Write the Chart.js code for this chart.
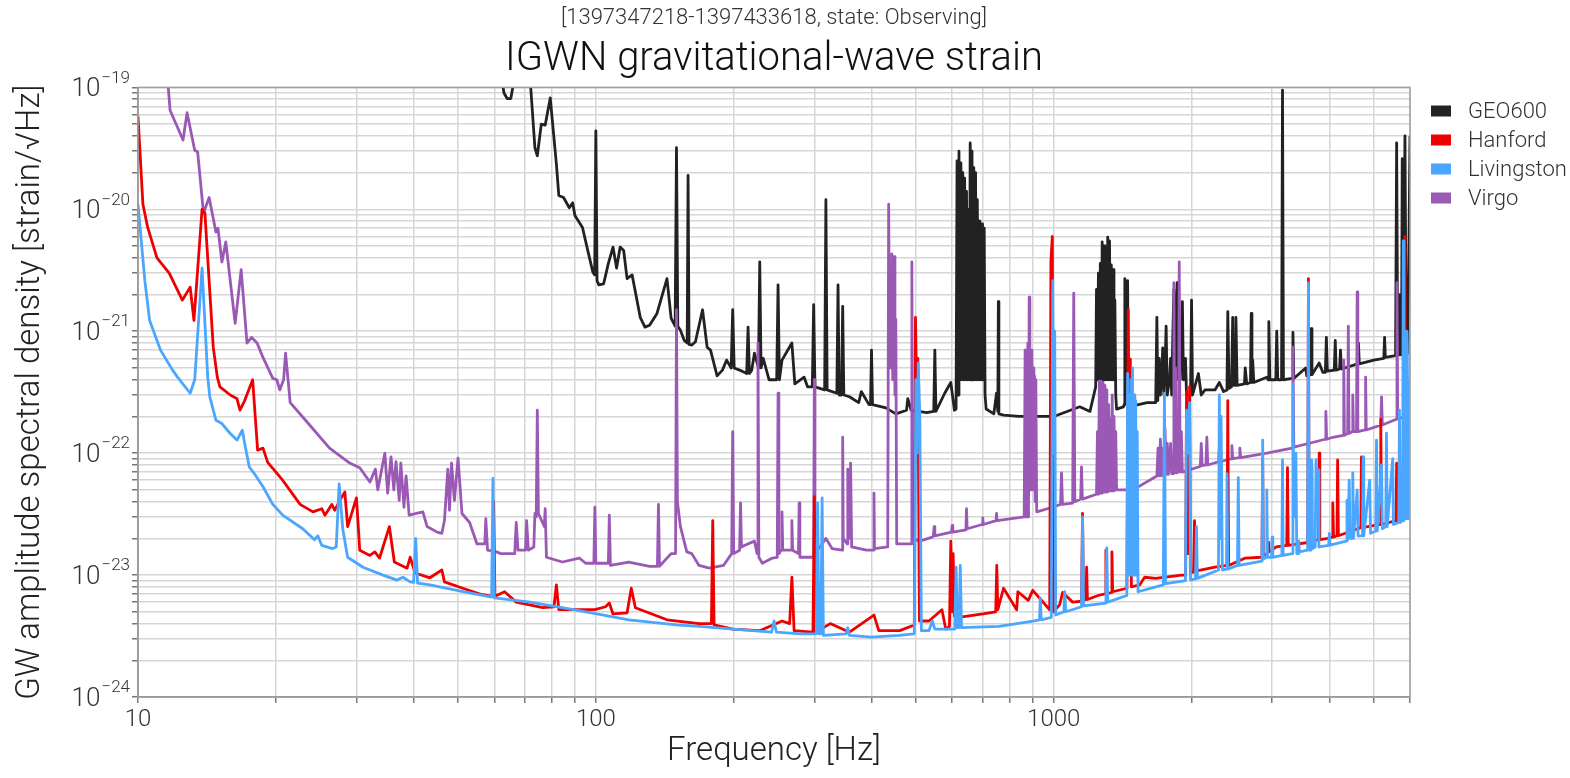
<!DOCTYPE html>
<html lang="en">
<head>
    <meta charset="UTF-8">
    <title>IGWN gravitational-wave strain</title>
    <style>
        body {
            margin: 0;
            background: #ffffff;
        }
        .chart-container {
            width: 1570px;
            height: 778px;
        }
    </style>
</head>
<body>
    <div class="chart-container">
        <canvas id="asdChart"></canvas>
    </div>

    <script src="https://cdn.jsdelivr.net/npm/chart.js"></script>
    <script>
        // axis ranges and tick labels
        const freqRange = [10, 6000];
        const asdRange = [1e-24, 1e-19];
        const xTickValues = [10, 20, 30, 40, 50, 60, 70, 80, 90, 100, 200, 300, 400, 500, 600, 700, 800, 900,
                             1000, 2000, 3000, 4000, 5000, 6000];
        const xTickLabels = { 10: '10', 100: '100', 1000: '1000' };
        const yDecades = [1e-24, 1e-23, 1e-22, 1e-21, 1e-20, 1e-19];
        const yDecadeExponents = ['\u221224', '\u221223', '\u221222', '\u221221', '\u221220', '\u221219'];
        const yMinorSteps = [1, 2, 3, 4, 5, 6, 7, 8, 9];

        const detectors = ['GEO600', 'Hanford', 'Livingston', 'Virgo'];
        const colors = ['#222222', '#ee0000', '#4ba6ff', '#9b59b6'];
        const drawOrder = [4, 2, 1, 3];   // higher = further back

        // [frequency Hz, ASD strain/rtHz]
        const geo600 = [
            [50,5e-19],[60,2e-19],[62,1.3e-19],[63,9e-20],[64,8.1e-20],[65.2,8.1e-20],[66,1.05e-19],[68,1.5e-19],
            [71,1.5e-19],[72,1.05e-19],[73.6,3.2e-20],[74.5,2.75e-20],[76,5e-20],[77.5,4.9e-20],[79.5,8.2e-20],
            [82,2.35e-20],[83,1.3e-20],[85,1.25e-20],[87.5,1.03e-20],[89,1.13e-20],[90,8.9e-21],[93.5,7.1e-21],
            [96,4.6e-21],[98.5,3.05e-21],[99.4,2.9e-21],[100,4.4e-20],[100.6,2.6e-21],[101.5,2.4e-21],[104,2.45e-21],
            [106.5,3.6e-21],[109,4.9e-21],[111,3.3e-21],[113,4.9e-21],[115,4.6e-21],[117,2.7e-21],[120,2.9e-21],
            [125,1.3e-21],[128,1.08e-21],[131,1.12e-21],[136,1.4e-21],[143,2.7e-21],[146,1.28e-21],[149,1.1e-21],
            [150,3.2e-20],[151,1.1e-21],[153,1.02e-21],[156,8.4e-22],[158.3,8e-22],[159,1.9e-20],[159.8,7.8e-22],
            [162,7.7e-22],[165,8.2e-22],[171,1.5e-21],[175,7.4e-22],[178,7e-22],[184,4.3e-22],[189,4.8e-22],
            [193,5.8e-22],[197.5,5e-22],[199,1.5e-21],[200.5,5e-22],[206,4.8e-22],[213.5,4.5e-22],[215,1.08e-21],
            [216.5,4.5e-22],[219,4.8e-22],[222,6.6e-22],[226.5,5e-22],[228,3.7e-21],[229.5,5e-22],[232,6e-22],
            [239,4e-22],[248.3,4e-22],[250,2.4e-21],[251.7,4e-22],[255,5.8e-22],[268,8e-22],[272,3.7e-22],
            [285,4.2e-22],[290,3.5e-22],[297,3.5e-22],[299,1.65e-21],[301,3.5e-22],[316,3.3e-22],[318,1.2e-20],
            [320,3.3e-22],[336,3.1e-22],[338,2.4e-21],[340,3e-22],[344,3e-22],[346,1.6e-21],[348,3e-22],
            [358,2.9e-22],[375,2.6e-22],[380,3.2e-22],[395,2.5e-22],[398,2.5e-22],[400,7e-22],[402,2.5e-22],
            [430,2.35e-22],[452,2.1e-22],[477,2.25e-22],[480,2.8e-22],[488,2.25e-22],[528,2.15e-22],[547,2.2e-22],
            [550,7e-22],[553,2.2e-22],[578,3.1e-22],[596,3.8e-22],[607,2.25e-22],
            [612,2.3e-22],[615,2.5e-20],[618,3e-22],[621,3e-20],[624,4e-22],[627,2.4e-20],[630,4e-22],[633,2e-20],
            [636,4e-22],[639,1.8e-20],[642,4e-22],[645,1.4e-20],[648,4e-22],[651,1e-20],[654,4e-22],[657,3.5e-20],
            [660,4e-22],[663,3e-20],[666,4e-22],[669,2.2e-20],[672,4e-22],[675,2e-20],[678,4e-22],[681,1.2e-20],
            [684,4e-22],[687,8e-21],[690,4e-22],[693,7.6e-21],[696,4e-22],[699,7.6e-21],[702,4e-22],[705,7e-21],
            [708,3e-22],[712,2.3e-22],
            [740,2.1e-22],[750,3.1e-22],[755,2.2e-22],[757,1.75e-21],[759,2.1e-22],[777,2.05e-22],[840,2e-22],
            [930,2e-22],[1000,2e-22],[1140,2.4e-22],[1200,2.2e-22],[1235,3.5e-22],
            [1240,2.2e-21],[1246,4e-22],[1252,3e-21],[1258,4e-22],[1264,3.6e-21],[1270,4e-22],[1276,5.4e-21],
            [1282,4e-22],[1288,5e-21],[1294,4e-22],[1300,4.2e-21],[1306,4e-22],[1312,5.9e-21],[1318,4e-22],
            [1324,5.5e-21],[1330,4e-22],[1336,3.5e-21],[1342,4e-22],[1348,3.2e-21],[1354,4e-22],[1360,1.8e-21],
            [1366,3e-22],[1372,2.3e-22],
            [1420,2.4e-22],[1425,2.5e-22],[1430,2.7e-21],[1436,3e-22],[1443,3e-22],[1450,2.6e-21],[1456,2.4e-22],
            [1600,2.6e-22],[1670,2.6e-22],[1680,1.3e-21],[1688,2.7e-22],[1700,6e-22],[1710,3e-22],[1720,4e-22],
            [1730,7.3e-22],[1740,3e-22],[1750,5e-22],[1760,1.1e-21],[1770,3e-22],[1790,4e-22],[1800,6e-22],
            [1810,3e-22],[1820,9e-22],[1830,2.2e-21],[1840,4e-22],[1850,1.2e-21],[1860,2.5e-21],[1870,4e-22],
            [1880,8e-22],[1890,4e-22],[1900,1e-21],[1910,1.75e-21],[1920,4e-22],[1940,6e-22],[1950,3e-22],
            [1990,3e-22],[2000,1.8e-21],[2010,3e-22],[2070,4.5e-22],[2100,3e-22],[2140,3.3e-22],[2250,3.3e-22],
            [2300,3.8e-22],[2350,3.2e-22],[2390,3.3e-22],[2400,1.45e-21],[2415,3.4e-22],[2445,3.5e-22],
            [2460,1.3e-21],[2475,3.6e-22],[2490,3.6e-22],[2500,1.3e-21],[2515,3.6e-22],[2610,3.7e-22],[2620,5e-22],
            [2640,3.7e-22],[2690,3.8e-22],[2700,1.4e-21],[2710,3.8e-22],[2720,5.8e-22],[2735,3.8e-22],[2920,4.2e-22],
            [2940,4e-22],[2950,1.2e-21],[2965,4e-22],[3055,4e-22],[3070,1e-21],[3085,4e-22],[3145,4e-22],
            [3160,9.5e-20],[3175,4e-22],[3315,4.1e-22],[3330,9.8e-22],[3345,4.1e-22],[3550,5e-22],[3570,4.3e-22],
            [3635,4.4e-22],[3650,1.05e-21],[3665,4.4e-22],[3800,5.5e-22],[3870,4.6e-22],[3920,4.6e-22],
            [3940,8.9e-22],[3960,4.7e-22],[4100,4.8e-22],[4120,8.4e-22],[4140,4.8e-22],[4210,4.9e-22],[4230,7e-22],
            [4250,4.9e-22],[4610,5.4e-22],[4630,8e-22],[4650,5.4e-22],[5000,5.8e-22],[5260,6e-22],[5280,8.9e-22],
            [5300,6.1e-22],[5580,6.3e-22],[5610,3.5e-20],[5640,6.4e-22],[5680,6.4e-22],[5700,2e-21],[5730,6.4e-22],
            [5750,6.4e-22],[5770,2.6e-20],[5795,6.5e-22],[5820,6.5e-22],[5850,4e-20],[5880,1.5e-21],[5920,6.5e-22],
            [5960,3e-21],[6000,4e-20]
        ];

        const hanford = [
            [10,5.8e-20],[10.25,1.1e-20],[10.5,7.1e-21],[11,4e-21],[11.7,3e-21],[12.5,1.8e-21],[13,2.3e-21],
            [13.25,1.23e-21],[13.8,1e-20],[14,9.3e-21],[14.6,7.4e-22],[14.9,4.2e-22],[15.1,3.5e-22],[15.9,3e-22],
            [16.45,2.8e-22],[16.7,2.25e-22],[17.1,2.7e-22],[17.8,4e-22],[18.25,1.06e-22],[18.75,1.1e-22],
            [19.2,8.4e-23],[20.7,6e-23],[22.6,3.8e-23],[24.1,3.3e-23],[25.2,3.5e-23],[25.6,3.1e-23],[26.5,3.8e-23],
            [26.9,3.4e-23],[27.6,4.1e-23],[28.3,4.8e-23],[28.7,2.5e-23],[30,4.3e-23],[30.5,1.6e-23],[32.1,1.45e-23],
            [32.9,1.55e-23],[33.7,1.38e-23],[35.4,2.5e-23],[36.3,1.28e-23],[38.7,1.14e-23],[39.3,1.4e-23],
            [40.3,1.04e-23],[43.4,9.5e-24],[46.1,1.1e-23],[46.7,8.8e-24],[51.2,7.8e-24],[56.5,6.9e-24],[59.4,6.7e-24],
            [59.8,4e-23],[60.2,6.7e-24],[63.2,7.3e-24],[67,6e-24],[76.6,5.4e-24],[81,5.5e-24],[82,8.3e-24],
            [83,5.2e-24],[99.5,5.2e-24],[105,5.5e-24],[107,5.9e-24],[109,4.8e-24],[117,4.9e-24],[119.5,7.8e-24],
            [122,5.4e-24],[143,4.3e-24],[168,4e-24],[178.8,4e-24],[180,2.8e-23],[181.2,3.9e-24],[199,3.6e-24],
            [228,3.5e-24],[255,4.2e-24],[265,4e-24],[268,9.6e-24],[271,3.5e-24],[298,3.4e-24],[300,4.4e-23],
            [302,3.4e-24],[325,4e-24],[358,3.4e-24],[405,4.7e-24],[415,3.5e-24],[461,3.5e-24],[496,3.9e-24],
            [499,1.3e-21],[502,3e-22],[505,6e-22],[509,4.2e-24],[534,4.2e-24],[570,5.2e-24],[581,3.6e-24],
            [592,3.8e-24],[596,1.9e-23],[600,5e-24],[603,1.5e-23],[607,4.6e-24],[620,4.5e-24],[700,4.8e-24],
            [747,5e-24],[751,1.2e-23],[755,5.2e-24],[777,7.8e-24],[830,5.2e-24],[835,7.3e-24],[880,6.2e-24],
            [900,7.5e-24],[980,5.2e-24],[986,3.7e-21],[993,6e-21],[999,5e-24],[1030,5.7e-24],[1046,7.2e-24],
            [1100,6e-24],[1150,6.1e-24],[1156,3.2e-23],[1162,6.2e-24],[1176,6.3e-24],[1180,1.16e-23],[1185,6.3e-24],
            [1250,6.8e-24],[1295,7e-24],[1300,1.6e-23],[1305,7e-24],[1335,7.2e-24],[1340,1.55e-23],[1345,7.3e-24],
            [1445,7.8e-24],[1455,1.5e-21],[1462,4e-23],[1470,5.9e-22],[1478,8e-24],[1540,8.3e-24],[1580,9.6e-24],
            [1670,9.4e-24],[1900,1e-23],[1942,1e-23],[1950,3.2e-22],[1960,1.5e-23],[1972,1.5e-23],[1980,3.5e-22],
            [1988,1.05e-23],[2020,1.06e-23],[2030,2.8e-23],[2040,1.08e-23],[2250,1.16e-23],[2390,1.2e-23],
            [2400,2.7e-22],[2410,1.2e-23],[2620,1.38e-23],[2850,1.4e-23],[2860,8.8e-23],[2870,1.45e-23],
            [2930,1.5e-23],[2940,1.85e-23],[2950,1.55e-23],[3060,1.7e-23],[3228,1.75e-23],[3240,7.6e-23],
            [3252,1.75e-23],[3588,1.85e-23],[3600,2.7e-21],[3612,1.85e-23],[3638,1.9e-23],[3650,7.8e-23],
            [3662,1.9e-23],[3788,1.95e-23],[3800,1e-22],[3812,1.95e-23],[3970,2e-23],[4055,2.05e-23],[4070,3.9e-23],
            [4085,2.05e-23],[4155,2.1e-23],[4170,8.8e-23],[4185,2.1e-23],[4685,2.45e-23],[4700,9.3e-23],
            [4715,2.45e-23],[5160,2.6e-23],[5180,1.9e-22],[5200,2.6e-23],[5590,2.8e-23],[5610,8.3e-23],
            [5630,2.8e-23],[5830,2.9e-23],[5850,6e-21],[5870,2.9e-23],[5930,2.9e-23],[5950,2e-22],[5970,3e-23],
            [6000,3e-23]
        ];

        const livingston = [
            [10,1.1e-20],[10.35,2.6e-21],[10.6,1.23e-21],[11.2,7e-22],[11.9,4.8e-22],[12.2,4.2e-22],[13,3.1e-22],
            [13.3,4e-22],[13.8,3.3e-21],[14.2,4.2e-22],[14.35,2.9e-22],[14.8,1.86e-22],[15.25,1.75e-22],
            [15.9,1.45e-22],[16.45,1.28e-22],[16.9,1.54e-22],[17.1,1.2e-22],[17.5,7.7e-23],[17.9,6.9e-23],
            [18.75,5.3e-23],[19.7,3.8e-23],[20.7,3.1e-23],[22.9,2.4e-23],[24.3,1.95e-23],[24.7,2.1e-23],
            [25.2,1.75e-23],[26.6,1.65e-23],[27.1,1.7e-23],[27.5,5.6e-23],[28,2.4e-23],[28.7,1.4e-23],[31,1.16e-23],
            [34.3,1e-23],[36.8,9.1e-24],[37.9,9.6e-24],[39.3,8.8e-24],[40,8.7e-24],[40.4,2e-23],[40.8,8.6e-24],
            [43.4,8.3e-24],[51.3,7.3e-24],[59.2,6.6e-24],[59.6,6.2e-23],[60,6.5e-24],[71.8,6e-24],[84.4,5.4e-24],
            [100.5,4.8e-24],[118,4.3e-24],[133,4.1e-24],[150,3.9e-24],[168,3.8e-24],[200,3.6e-24],[242,3.4e-24],
            [245,4.2e-24],[248,3.4e-24],[280,3.3e-24],[303,3.3e-24],[305,3.9e-23],[307,3.3e-24],[310,3.3e-24],
            [312,4.3e-23],[314,3.2e-24],[352,3.3e-24],[355,3.7e-24],[358,3.2e-24],[400,3.1e-24],[460,3.2e-24],
            [496,3.3e-24],[500,4e-22],[503,1e-22],[506,5.5e-22],[510,2e-22],[514,3.5e-24],[534,3.5e-24],
            [543,4.2e-24],[550,3.6e-24],[608,3.6e-24],[612,1.16e-23],[616,3.7e-24],[621,3.7e-24],[625,1.2e-23],
            [629,3.7e-24],[760,3.8e-24],[900,4.2e-24],[931,4.3e-24],[935,6.5e-24],[939,4.3e-24],[988,4.5e-24],
            [995,2.6e-21],[1000,1e-22],[1005,1e-21],[1010,4.7e-24],[1052,5e-24],[1057,7.3e-24],[1062,5e-24],
            [1150,5.5e-24],[1156,3e-23],[1162,5.6e-24],[1300,5.9e-24],[1306,1.67e-23],[1312,6e-24],[1444,6.8e-24],
            [1450,4.5e-22],[1456,1e-23],[1462,3e-22],[1468,1e-23],[1474,4e-22],[1480,1e-23],[1486,5e-22],
            [1492,1e-23],[1498,3e-22],[1504,1e-23],[1510,2.7e-22],[1516,1e-23],[1522,1.5e-22],[1528,7.3e-24],
            [1735,8.3e-24],[1745,3.1e-22],[1755,8.5e-24],[1940,9e-24],[1950,2.25e-22],[1965,1e-22],[1980,2.6e-22],
            [1990,9.1e-24],[2040,9.3e-24],[2050,2.5e-23],[2060,9.4e-24],[2290,1.1e-23],[2300,3e-22],[2310,2e-23],
            [2320,2e-22],[2335,1.1e-23],[2380,1.12e-23],[2390,6.8e-23],[2400,1.12e-23],[2520,1.2e-23],
            [2530,6.3e-23],[2540,1.2e-23],[2850,1.3e-23],[2860,1.28e-22],[2870,1.35e-23],[2910,1.4e-23],
            [2920,5e-23],[2930,1.4e-23],[2990,1.4e-23],[3000,2.05e-23],[3010,1.4e-23],[3150,1.45e-23],
            [3160,8.8e-23],[3170,1.45e-23],[3320,1.5e-23],[3330,3.7e-22],[3345,3e-23],[3365,3e-23],[3380,1e-22],
            [3395,1.5e-23],[3420,1.5e-23],[3430,1.9e-23],[3440,1.55e-23],[3585,1.6e-23],[3600,2.5e-21],
            [3615,1.6e-23],[3645,1.6e-23],[3660,8.8e-23],[3675,1.65e-23],[3725,1.7e-23],[3740,8.8e-23],
            [3760,3e-23],[3780,7.3e-23],[3795,1.7e-23],[3985,1.75e-23],[4000,2.2e-23],[4015,1.76e-23],
            [4355,1.9e-23],[4370,4.1e-23],[4385,1.95e-23],[4420,6e-23],[4440,2e-23],[4485,2e-23],[4500,6.9e-23],
            [4515,2e-23],[4600,5e-23],[4620,2.1e-23],[4725,2.1e-23],[4740,9.3e-23],[4755,2.1e-23],[4900,6e-23],
            [4920,2.2e-23],[5050,2.3e-23],[5070,1.28e-22],[5090,2.3e-23],[5200,8e-23],[5220,2.4e-23],[5310,2.5e-23],
            [5330,1.46e-22],[5350,2.5e-23],[5500,9e-23],[5520,2.6e-23],[5670,2.7e-23],[5690,2.25e-22],[5710,2.7e-23],
            [5780,2.8e-23],[5800,5.5e-21],[5820,2.8e-23],[5850,3e-22],[5880,2.9e-23],[5900,1e-21],[5930,2.9e-23],
            [5950,4e-22],[5980,2.9e-23],[6000,1e-21]
        ];

        const virgo = [
            [10,4e-19],[11.6,1.2e-19],[11.75,6.5e-20],[12.54,3.7e-20],[12.8,6.2e-20],[13.3,3.05e-20],[13.5,2.95e-20],
            [13.9,9.3e-21],[14.3,1.25e-20],[14.8,6.5e-21],[14.95,7e-21],[15.25,3.7e-21],[15.55,5.4e-21],
            [16.3,1.16e-21],[16.8,3.2e-21],[17.3,8e-22],[17.7,8.9e-22],[18.2,8e-22],[18.75,6.1e-22],[19.7,4.1e-22],
            [20.1,4e-22],[20.4,3.3e-22],[20.8,4e-22],[21,6.6e-22],[21.5,2.6e-22],[23.4,1.8e-22],[26.2,1.1e-22],
            [29,8.3e-23],[30.5,7.6e-23],[32.1,5.8e-23],[33,7.4e-23],[33.4,5e-23],[34.6,1e-22],[35.1,4.7e-23],
            [35.7,9.3e-23],[36.2,5e-23],[36.6,8.5e-23],[37.2,4.1e-23],[37.5,8.3e-23],[38.1,3.6e-23],[38.5,6.5e-23],
            [39.1,3.1e-23],[41.9,3.3e-23],[42.8,2.5e-23],[45,2.25e-23],[46.1,2.2e-23],[46.7,2.8e-23],[47.5,7.4e-23],
            [47.9,3.4e-23],[48.4,8.3e-23],[49.1,4.1e-23],[50,9.1e-23],[51,3.2e-23],[53,2.7e-23],[55,1.8e-23],
            [57.2,1.8e-23],[57.5,2.9e-23],[58,1.6e-23],[60.7,1.55e-23],[62,1.5e-23],[66.5,1.5e-23],[67,2.7e-23],
            [67.6,1.6e-23],[70.2,1.6e-23],[70.6,2.8e-23],[71.2,1.6e-23],[73.2,1.7e-23],[73.6,3.2e-23],[74.1,3e-23],
            [74.5,2.25e-22],[74.9,3.2e-23],[77.2,2.5e-23],[77.5,3.5e-23],[78,1.4e-23],[84.5,1.28e-23],[92,1.38e-23],
            [95,1.25e-23],[99,1.25e-23],[99.5,3.6e-23],[100,1.25e-23],[106.5,1.25e-23],[107,3.1e-23],[107.6,1.2e-23],
            [118,1.28e-23],[131,1.18e-23],[136.3,1.18e-23],[137,3.8e-23],[137.7,1.18e-23],[146,1.5e-23],
            [149.3,1.5e-23],[150,1.5e-21],[150.7,4e-23],[153,2.5e-23],[158,1.55e-23],[162,1.5e-23],[168,1.2e-23],
            [177,1.14e-23],[190,1.2e-23],[198,1.5e-23],[199,1.5e-22],[200,1.5e-23],[206,1.6e-23],[207,3.9e-23],
            [208,1.7e-23],[211,1.75e-23],[222,1.9e-23],[225,1.5e-23],[226,8e-22],[227,1.4e-23],[231,1.25e-23],
            [243,1.38e-23],[249,1.4e-23],[250,3.1e-22],[251,1.5e-23],[254,1.6e-23],[255,3.3e-23],[256,1.6e-23],
            [267,1.6e-23],[268,2.8e-23],[269,1.6e-23],[277,1.5e-23],[278,3.9e-23],[279,1.4e-23],[297,1.4e-23],
            [299,1.4e-23],[300,4e-22],[301,2e-23],[305,1.6e-23],[318,2e-23],[328,1.65e-23],[345,1.6e-23],
            [346,1.35e-22],[347,2e-23],[354,1.8e-23],[355,7.4e-23],[357,2e-23],[359,2e-23],[360,8.3e-23],
            [362,1.7e-23],[390,1.6e-23],[404,1.6e-23],[405,4.7e-23],[406,1.65e-23],[434,1.7e-23],[436,1.1e-20],
            [438,5e-22],[440,2e-21],[442,5e-22],[443,4.3e-21],[445,4e-22],[448,4.1e-21],[450,3e-22],[452,1.25e-21],
            [454,1.8e-23],[488,1.8e-23],[490,3.7e-21],[492,2e-23],[510,1.9e-23],[543,2.05e-23],[546,2.1e-23],
            [548,2.5e-23],[550,2.1e-23],[598,2.25e-23],[600,2.55e-23],[602,2.25e-23],[643,2.35e-23],[645,3.5e-23],
            [647,2.4e-23],[698,2.6e-23],[700,2.95e-23],[702,2.6e-23],[748,2.8e-23],[750,3.2e-23],[752,2.8e-23],
            [862,3e-23],[866,7e-22],[869,3e-23],[872,4e-22],[875,3e-23],[878,8e-22],[881,3e-23],[884,1.9e-21],
            [887,5e-23],[890,6e-22],[893,5e-23],[896,7e-22],[899,5e-23],[902,5e-22],[905,5e-23],[908,4.3e-22],
            [911,4e-23],[914,4e-22],[918,3.3e-23],[995,3.6e-23],[1035,3.8e-23],[1040,6.9e-23],[1045,3.8e-23],
            [1100,3.9e-23],[1106,2.05e-21],[1112,4e-23],[1145,4.2e-23],[1150,7.7e-23],[1155,4.2e-23],
            [1240,4.6e-23],[1246,1.5e-22],[1252,4.6e-23],[1258,3.9e-22],[1264,4.7e-23],[1270,3.9e-22],[1276,4.7e-23],
            [1282,3.8e-22],[1288,4.8e-23],[1294,3.6e-22],[1300,4.8e-23],[1306,3.3e-22],[1312,4.8e-23],[1318,2.5e-22],
            [1324,4.9e-23],[1330,1.9e-22],[1336,4.9e-23],[1342,3e-22],[1348,4.9e-23],[1354,2e-22],[1360,5e-23],
            [1366,1.5e-22],[1372,5e-23],[1490,5e-23],[1680,6.5e-23],[1690,1.1e-22],[1700,6.5e-23],[1710,1.3e-22],
            [1720,6.5e-23],[1730,1.1e-22],[1740,6.6e-23],[1750,1.6e-22],[1760,6.7e-23],[1770,1.2e-22],[1780,6.7e-23],
            [1800,1.2e-22],[1810,6.8e-23],[1822,6.8e-23],[1830,2.5e-21],[1838,6.9e-23],[1845,5e-22],[1852,6.9e-23],
            [1872,7e-23],[1880,3.7e-21],[1888,7e-23],[1900,1.5e-22],[1910,7e-23],[2070,7.7e-23],[2090,7.8e-23],
            [2100,1.2e-22],[2110,7.9e-23],[2150,8e-23],[2160,1.35e-22],[2170,8e-23],[2290,8.5e-23],[2300,1.1e-22],
            [2310,8.5e-23],[2440,9e-23],[2450,1.15e-22],[2460,9e-23],[2540,9.2e-23],[2550,1.1e-22],[2560,9.2e-23],
            [2920,1e-22],[3315,1.1e-22],[3330,7.4e-22],[3345,1.12e-22],[3600,1.2e-22],[3915,1.3e-22],[3930,2.2e-22],
            [3945,1.3e-22],[4070,1.35e-22],[4285,1.4e-22],[4300,5.8e-22],[4315,1.4e-22],[4385,1.45e-22],
            [4400,1.1e-21],[4415,1.45e-22],[4485,1.5e-22],[4500,3e-22],[4515,1.5e-22],[4585,1.5e-22],[4600,2.1e-21],
            [4615,1.5e-22],[4785,1.55e-22],[4800,4.2e-22],[4815,1.55e-22],[5180,1.7e-22],[5200,2.9e-22],
            [5220,1.7e-22],[5600,1.9e-22],[5620,2.5e-21],[5640,1.9e-22],[6000,2.1e-22]
        ];

        const series = [geo600, hanford, livingston, virgo];

        const yTickValues = [];
        yDecades.forEach(d => yMinorSteps.forEach(m => {
            if (d * m <= asdRange[1] * 1.0001) yTickValues.push(d * m);
        }));

        // frame, y decade labels with superscripts, legend
        const decorPlugin = {
            id: 'decor',
            afterDatasetsDraw(chart) {
                const {ctx, chartArea: a} = chart;
                ctx.save();
                ctx.strokeStyle = '#a0a0a0';
                ctx.lineWidth = 1.5;
                ctx.strokeRect(a.left, a.top, a.right - a.left, a.bottom - a.top);
                ctx.restore();
            },
            afterDraw(chart) {
                const ctx = chart.ctx;
                const yScale = chart.scales.y;
                ctx.save();
                ctx.fillStyle = '#333333';
                ctx.textBaseline = 'middle';
                yDecades.forEach((d, i) => {
                    const y = yScale.getPixelForValue(d);
                    ctx.font = '300 17px Roboto, sans-serif';
                    ctx.textAlign = 'right';
                    const right = yScale.right - 8;
                    ctx.fillText(yDecadeExponents[i], right, y - 9);
                    const w = ctx.measureText(yDecadeExponents[i]).width;
                    ctx.font = '300 26px Roboto, sans-serif';
                    ctx.fillText('10', right - w - 1, y + 2);
                });

                ctx.font = '300 22px Roboto, sans-serif';
                ctx.textAlign = 'left';
                chart.data.datasets.forEach((ds, i) => {
                    const y = 111 + i * 29;
                    ctx.fillStyle = ds.borderColor;
                    ctx.fillRect(1431, y - 5.5, 20, 11);
                    ctx.fillStyle = '#333333';
                    ctx.fillText(ds.label, 1468, y + 1);
                });
                ctx.restore();
            }
        };

        const ctx = document.getElementById('asdChart').getContext('2d');
        Chart.defaults.font.family = 'Roboto, "Open Sans", sans-serif';
        Chart.defaults.font.weight = '300';
        Chart.defaults.color = '#333333';

        const asdChart = new Chart(ctx, {
            type: 'line',
            data: {
                datasets: detectors.map((name, i) => ({
                    label: name,
                    data: series[i],
                    borderColor: colors[i],
                    backgroundColor: colors[i],
                    borderWidth: 2.8,
                    borderJoinStyle: 'round',
                    pointRadius: 0,
                    tension: 0,
                    order: drawOrder[i]
                }))
            },
            options: {
                responsive: true,
                maintainAspectRatio: false,
                animation: false,
                layout: { padding: { left: 0, right: 160, top: 0, bottom: 0 } },
                plugins: {
                    legend: { display: false },
                    tooltip: { enabled: false },
                    subtitle: {
                        display: true,
                        fullSize: false,
                        text: '[1397347218-1397433618, state: Observing]',
                        color: '#333333',
                        font: { size: 22, weight: '300' },
                        padding: { top: 5, bottom: 0 },
                        weight: 3000
                    },
                    title: {
                        display: true,
                        fullSize: false,
                        text: 'IGWN gravitational-wave strain',
                        color: '#111111',
                        font: { size: 40, weight: '300' },
                        padding: { top: 5, bottom: 3 }
                    }
                },
                scales: {
                    x: {
                        type: 'logarithmic',
                        min: freqRange[0],
                        max: freqRange[1],
                        afterBuildTicks: s => { s.ticks = xTickValues.map(v => ({ value: v })); },
                        afterFit: s => { s.height = 81; },
                        ticks: {
                            autoSkip: false,
                            maxRotation: 0,
                            padding: 3,
                            color: '#333333',
                            font: { size: 24 },
                            callback: v => xTickLabels[v] || ''
                        },
                        grid: {
                            color: '#d6d6d6',
                            lineWidth: 1.5,
                            tickLength: 6,
                            tickColor: '#777777'
                        },
                        border: { color: '#888888', width: 1.5 },
                        title: {
                            display: true,
                            text: 'Frequency [Hz]',
                            color: '#222222',
                            font: { size: 33 },
                            padding: { top: 0, bottom: 6 }
                        }
                    },
                    y: {
                        type: 'logarithmic',
                        min: asdRange[0],
                        max: asdRange[1],
                        afterBuildTicks: s => { s.ticks = yTickValues.map(v => ({ value: v })); },
                        afterFit: s => { s.width = 138; },
                        ticks: {
                            autoSkip: false,
                            padding: 3,
                            callback: () => ''
                        },
                        grid: {
                            color: '#d6d6d6',
                            lineWidth: 1.5,
                            tickLength: 6,
                            tickColor: '#777777'
                        },
                        border: { color: '#888888', width: 1.5 },
                        title: {
                            display: true,
                            text: 'GW amplitude spectral density [strain/\u221aHz]',
                            color: '#222222',
                            font: { size: 33 },
                            padding: { top: 11, bottom: 0 }
                        }
                    }
                }
            },
            plugins: [decorPlugin]
        });
    </script>
</body>
</html>
